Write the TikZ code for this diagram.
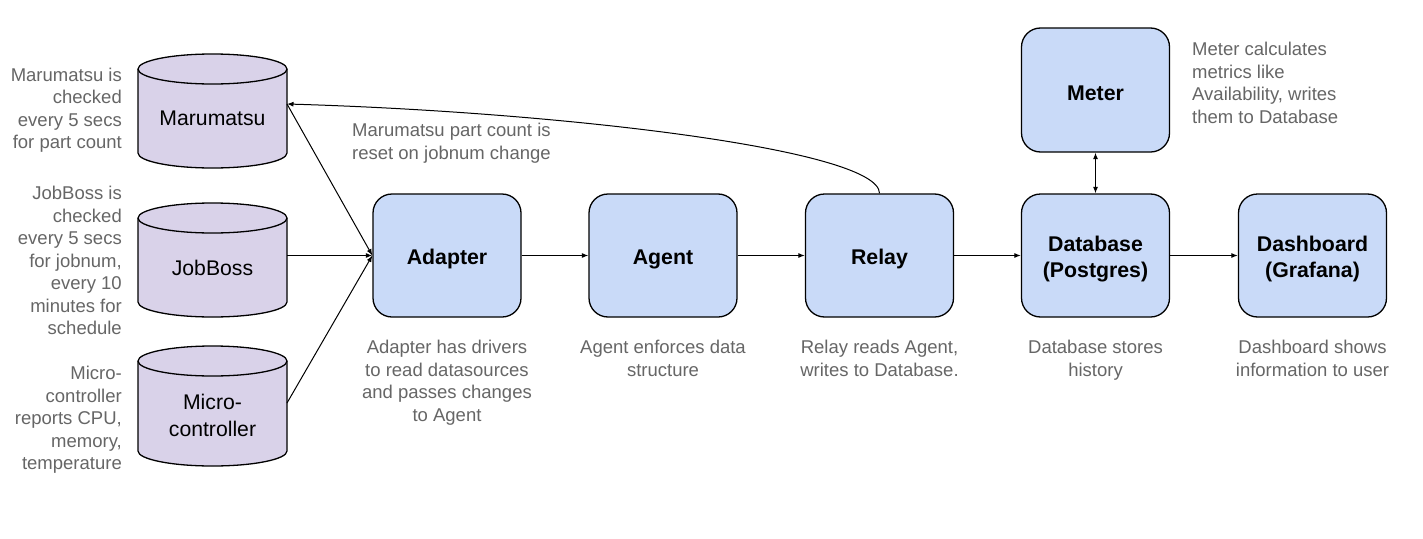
\documentclass[tikz,border=0pt]{standalone}
\usepackage{fontspec}
\setmainfont{Liberation Sans}
\usetikzlibrary{arrows.meta}
\definecolor{boxblue}{HTML}{C9DAF8}
\definecolor{cylpurple}{HTML}{D9D2E9}
\definecolor{notegray}{HTML}{666666}
\begin{document}
\begin{tikzpicture}[x=1pt,y=-1pt,
  procbox/.style={draw=black, line width=1.3pt, fill=boxblue, rounded corners=19pt,
    minimum width=148pt, minimum height=123pt, inner sep=0pt},
  proclabel/.style={inner sep=0pt, align=center, yshift=-3.5pt,
    font=\fontsize{21.3}{26}\selectfont\bfseries},
  cylbox/.style={minimum width=149pt, inner sep=0pt, outer sep=0pt},
  cyllabel/.style={inner sep=0pt, align=center, font=\fontsize{21.2}{27}\selectfont},
  cylshape/.style={draw=black, line width=1.3pt, fill=cylpurple},
  note/.style={text=notegray, inner sep=0pt, font=\fontsize{18.5}{22.5}\selectfont},
  conn/.style={draw=black, line width=1pt, -{Latex[length=6.5pt,width=5pt]}}]
\useasboundingbox (0,0) rectangle (1423,538);
\fill[white] (0,0) rectangle (1423,538);

% cylinders
\newcommand\dbcylinder[1]{%
  \path[cylshape] ([yshift=-15pt]#1.north west) -- ([yshift=15pt]#1.south west)
    arc[start angle=180,end angle=360,x radius=74.5pt,y radius=15pt]
    -- ([yshift=-15pt]#1.north east)
    arc[start angle=0,end angle=180,x radius=74.5pt,y radius=15pt] -- cycle;
  \draw[line width=1.3pt] ([yshift=-15pt]#1.north west)
    arc[start angle=180,end angle=360,x radius=74.5pt,y radius=15pt];}

\node[cylbox, minimum height=114pt] (mar) at (212.5,111) {};
\node[cylbox, minimum height=114pt] (job) at (212.5,260) {};
\node[cylbox, minimum height=120pt] (mic) at (212.5,406) {};
\dbcylinder{mar}
\dbcylinder{job}
\dbcylinder{mic}
\node[cyllabel] (marl) at (212.5,118.5) {Marumatsu};
\node[cyllabel] (jobl) at (212.5,267.5) {JobBoss};
\node[cyllabel] (micl) at (212.5,415.5) {Micro-\\controller};

% boxes
\node[procbox] (ad)   at (447,255.5)    {};
\node[procbox] (ag)   at (663,255.5)    {};
\node[procbox] (rel)  at (879.5,255.5)  {};
\node[procbox] (db)   at (1095.5,255.5) {};
\node[procbox] (dash) at (1312.5,255.5) {};
\node[procbox, minimum height=124pt] (met) at (1095.5,90) {};
\node[proclabel] (adl)   at (ad.center)   {Adapter};
\node[proclabel] (agl)   at (ag.center)   {Agent};
\node[proclabel] (rell)  at (rel.center)  {Relay};
\node[proclabel] (dbl)   at (db.center)   {Database\\(Postgres)};
\node[proclabel] (dashl) at (dash.center) {Dashboard\\(Grafana)};
\node[proclabel] (metl)  at (met.center)  {Meter};

% notes
\node[note, align=right, anchor=east] (n1) at (122,110)
  {Marumatsu is\\checked\\every 5 secs\\for part count};
\node[note, align=right, anchor=east] (n2) at (122,260.5)
  {JobBoss is\\checked\\every 5 secs\\for jobnum,\\every 10\\minutes for\\schedule};
\node[note, align=right, anchor=east] (n3) at (122,420)
  {Micro-\\controller\\reports CPU,\\memory,\\temperature};
\node[note, align=left, anchor=west] (n4) at (352,143)
  {Marumatsu part count is\\reset on jobnum change};
\node[note, align=left, anchor=west] (n5) at (1192,83)
  {Meter calculates\\metrics like\\Availability, writes\\them to Database};
\node[note, align=center, anchor=north] (n6) at (447,340)
  {Adapter has drivers\\to read datasources\\and passes changes\\to Agent};
\node[note, align=center, anchor=north] (n7) at (663,340)
  {Agent enforces data\\structure};
\node[note, align=center, anchor=north] (n8) at (879.5,340)
  {Relay reads Agent,\\writes to Database.};
\node[note, align=center, anchor=north] (n9) at (1095.5,340)
  {Database stores\\history};
\node[note, align=center, anchor=north] (n10) at (1312.5,340)
  {Dashboard shows\\information to user};

% connectors
\coordinate (marout) at ([yshift=7pt]mar.east);
\coordinate (micout) at ([yshift=3pt]mic.east);
\draw[conn] (marout) -- (ad.west);
\draw[conn] (job.east |- ad.west) -- (ad.west);
\draw[conn] (micout) -- (ad.west);
\draw[conn] (ad) -- (ag);
\draw[conn] (ag) -- (rel);
\draw[conn] (rel) -- (db);
\draw[conn] (db) -- (dash);
\draw[conn, {Latex[length=6.5pt,width=5pt]}-{Latex[length=6.5pt,width=5pt]}] (met.south) -- (db.north);
\draw[conn] (rel.north) .. controls ([yshift=44pt]rel.north) and (560,112) .. (marout);
\end{tikzpicture}
\end{document}
